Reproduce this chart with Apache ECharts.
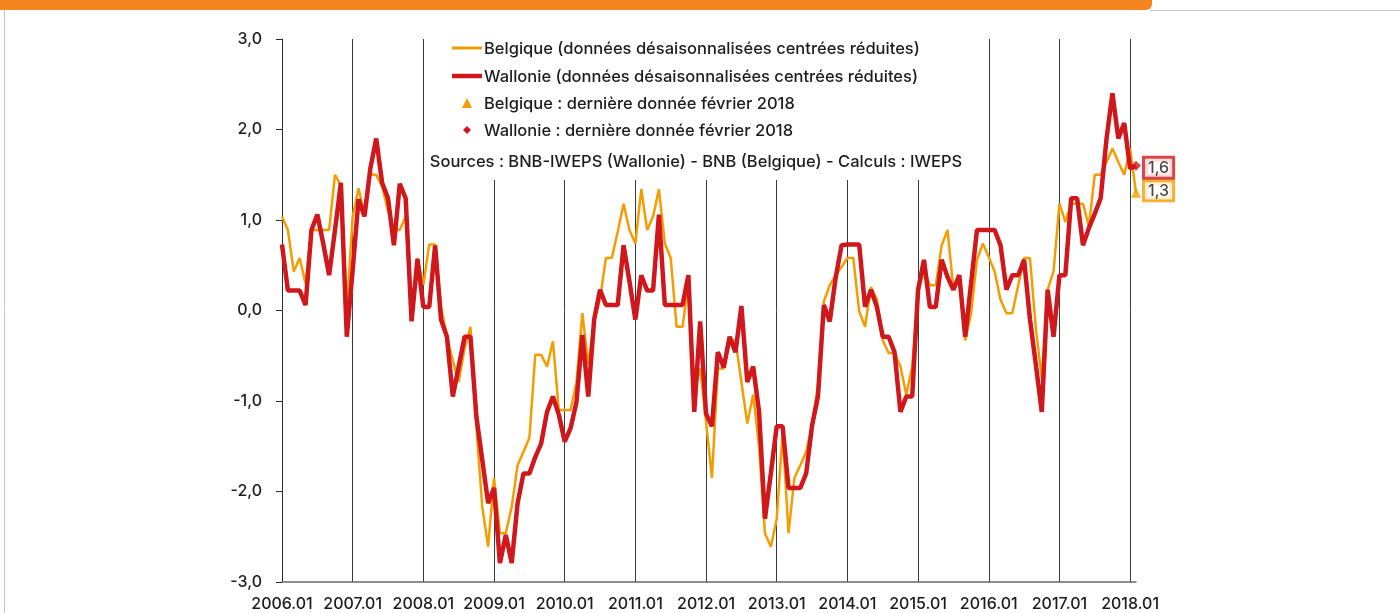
<!DOCTYPE html>
<html>
<head>
<meta charset="utf-8">
<script src="https://cdn.jsdelivr.net/npm/echarts@6/dist/echarts.min.js"></script>
<style>
    html,body{margin:0;padding:0;background:#fff;}
    #container{width:1400px;height:613px;}
</style>
</head>
<body>
<div id="container"></div>
<script>
// années affichées sur l'axe
var years = [2006,2007,2008,2009,2010,2011,2012,2013,2014,2015,2016,2017,2018];
var yTicks = [-3,-2,-1,0,1,2,3];

// Belgique (données désaisonnalisées centrées réduites), 2006.01 -> 2018.02
var belgique = [
    1.04, 0.89, 0.43, 0.58, 0.30, 0.89, 0.89, 0.89, 0.89, 1.50, 1.38, 0.00,
    1.04, 1.35, 1.06, 1.50, 1.50, 1.37, 1.10, 0.89, 0.89, 1.04, 0.00, 0.58,
    0.28, 0.73, 0.73, 0.04, -0.29, -0.55, -0.79, -0.42, -0.18, -1.28, -2.17, -2.61,
    -1.85, -2.46, -2.46, -2.17, -1.71, -1.56, -1.41, -0.49, -0.49, -0.62, -0.34, -1.10,
    -1.10, -1.10, -0.79, -0.03, -0.60, -0.12, 0.13, 0.58, 0.58, 0.87, 1.18, 0.89,
    0.74, 1.34, 0.89, 1.04, 1.34, 0.74, 0.58, -0.18, -0.18, 0.30, -0.90, -0.64,
    -1.23, -1.85, -0.64, -0.64, -0.33, -0.33, -0.79, -1.25, -0.93, -1.50, -2.46, -2.61,
    -2.30, -1.35, -2.46, -1.85, -1.71, -1.56, -1.27, -0.82, 0.10, 0.28, 0.39, 0.48,
    0.58, 0.58, -0.01, -0.18, 0.26, 0.12, -0.33, -0.47, -0.47, -0.62, -0.93, -0.62,
    0.19, 0.45, 0.28, 0.28, 0.72, 0.89, 0.23, 0.35, -0.33, -0.03, 0.56, 0.74,
    0.59, 0.43, 0.12, -0.03, -0.03, 0.28, 0.58, 0.58, -0.20, -0.75, 0.23, 0.43,
    1.18, 0.98, 1.18, 1.18, 1.18, 0.93, 1.50, 1.50, 1.64, 1.79, 1.64, 1.50,
    1.79, 1.30
];

// Wallonie (données désaisonnalisées centrées réduites)
var wallonie = [
    0.73, 0.22, 0.22, 0.22, 0.06, 0.89, 1.06, 0.74, 0.39, 0.89, 1.41, -0.29,
    0.45, 1.23, 1.04, 1.57, 1.90, 1.41, 1.24, 0.72, 1.40, 1.24, -0.12, 0.57,
    0.04, 0.04, 0.72, -0.10, -0.29, -0.95, -0.62, -0.29, -0.29, -1.17, -1.65, -2.13,
    -1.96, -2.79, -2.48, -2.79, -2.13, -1.80, -1.80, -1.62, -1.47, -1.12, -0.95, -1.15,
    -1.45, -1.30, -1.01, -0.27, -0.95, -0.10, 0.23, 0.06, 0.06, 0.06, 0.72, 0.32,
    -0.10, 0.39, 0.22, 0.22, 1.06, 0.06, 0.06, 0.06, 0.06, 0.39, -1.12, -0.12,
    -1.14, -1.28, -0.46, -0.63, -0.29, -0.46, 0.05, -0.79, -0.62, -1.12, -2.30, -1.80,
    -1.28, -1.28, -1.96, -1.96, -1.96, -1.80, -1.27, -0.95, 0.06, -0.12, 0.36, 0.72,
    0.73, 0.73, 0.73, 0.04, 0.23, 0.04, -0.29, -0.29, -0.46, -1.12, -0.95, -0.95,
    0.23, 0.56, 0.04, 0.04, 0.56, 0.37, 0.23, 0.39, -0.29, 0.30, 0.89, 0.89,
    0.89, 0.89, 0.72, 0.23, 0.39, 0.39, 0.56, -0.10, -0.60, -1.12, 0.23, -0.29,
    0.39, 0.39, 1.24, 1.24, 0.72, 0.91, 1.07, 1.24, 1.90, 2.40, 1.90, 2.07,
    1.57, 1.60
];

// dernière donnée février 2018
var lastMonth = '2018.02';
var lastBelgique = 1.3;
var lastWallonie = 1.6;

var names = [
    'Belgique (données désaisonnalisées centrées réduites)',
    'Wallonie (données désaisonnalisées centrées réduites)',
    'Belgique : dernière donnée février 2018',
    'Wallonie : dernière donnée février 2018'
];
var sourceText = 'Sources : BNB-IWEPS (Wallonie) - BNB (Belgique) - Calculs : IWEPS';

var months = [];
for (var i = 0; i < belgique.length; i++) {
    var y = years[0] + Math.floor(i / 12);
    var m = i % 12 + 1;
    months.push(y + '.' + (m < 10 ? '0' + m : m));
}

var orange = '#f59d00';
var red = '#d0181c';
var textColor = '#1c1c1c';
var font = 'Inter';
var legendFont = '500 16.5px ' + font;

function comma(v) {
    return v.toFixed(1).replace('.', ',');
}

var dom = document.getElementById('container');
var myChart = echarts.init(dom);
var option = {
    backgroundColor: '#ffffff',
    animation: false,
    textStyle: {fontFamily: font},
    grid: {left: 282, right: 264, top: 39, bottom: 31},
    xAxis: [{
        type: 'category',
        data: months,
        boundaryGap: false,
        axisLine: {show: false},
        axisTick: {show: false},
        axisLabel: {
            interval: 11,
            margin: 14,
            fontSize: 16,
            fontWeight: 500,
            color: textColor
        },
        splitLine: {show: true, interval: 11, lineStyle: {color: '#3a3a3a', width: 1}}
    }, {
        // ligne du zéro
        type: 'category',
        data: months,
        boundaryGap: false,
        position: 'bottom',
        axisLine: {show: true, onZero: true, lineStyle: {color: '#6a6a6a', width: 1.5}},
        axisTick: {show: false},
        axisLabel: {show: false},
        splitLine: {show: false}
    }],
    yAxis: {
        type: 'value',
        min: yTicks[0],
        max: yTicks[yTicks.length - 1],
        interval: 1,
        axisLine: {show: true, lineStyle: {color: '#2a2a2a', width: 1}},
        axisTick: {show: true, length: 6, lineStyle: {color: '#2a2a2a'}},
        axisLabel: {
            margin: 20,
            fontSize: 16,
            fontWeight: 500,
            color: textColor,
            formatter: function (v) { return comma(v); }
        },
        splitLine: {show: false}
    },
    graphic: [
        // bandeau du haut
        {type: 'rect', shape: {x: 0, y: 0, width: 1152, height: 10, r: [0, 0, 6, 0]}, style: {fill: '#f5851f'}},
        {type: 'line', shape: {x1: 1150, y1: 10.5, x2: 1400, y2: 10.5}, style: {stroke: '#c8c8c8', lineWidth: 1}},
        {type: 'line', shape: {x1: 4.5, y1: 10, x2: 4.5, y2: 613}, style: {stroke: '#c8c8c8', lineWidth: 1}},
        // fond blanc de la légende
        {type: 'rect', z: 1, shape: {x: 428, y: 38, width: 556, height: 142}, style: {fill: '#ffffff'}},
        {type: 'line', z: 3, shape: {x1: 452, y1: 48, x2: 482, y2: 48}, style: {stroke: orange, lineWidth: 3}},
        {type: 'line', z: 3, shape: {x1: 452, y1: 76, x2: 482, y2: 76}, style: {stroke: red, lineWidth: 4.5}},
        {type: 'polygon', z: 3, shape: {points: [[467, 98], [472, 108], [462, 108]]}, style: {fill: orange}},
        {type: 'polygon', z: 3, shape: {points: [[467, 126], [471, 130], [467, 134], [463, 130]]}, style: {fill: red}},
        {type: 'text', z: 3, x: 484, y: 49, style: {text: names[0], font: legendFont, fill: textColor, verticalAlign: 'middle'}},
        {type: 'text', z: 3, x: 484, y: 77, style: {text: names[1], font: legendFont, fill: textColor, verticalAlign: 'middle'}},
        {type: 'text', z: 3, x: 484, y: 104, style: {text: names[2], font: legendFont, fill: textColor, verticalAlign: 'middle'}},
        {type: 'text', z: 3, x: 484, y: 131, style: {text: names[3], font: legendFont, fill: textColor, verticalAlign: 'middle'}},
        {type: 'text', z: 3, x: 696, y: 162, style: {text: sourceText, font: legendFont, fill: textColor, align: 'center', verticalAlign: 'middle'}}
    ],
    series: [{
        name: names[0],
        type: 'line',
        data: belgique,
        symbol: 'none',
        z: 3,
        lineStyle: {color: orange, width: 2.5}
    }, {
        name: names[1],
        type: 'line',
        data: wallonie,
        symbol: 'none',
        z: 4,
        lineStyle: {color: red, width: 4.5}
    }, {
        name: names[2],
        type: 'scatter',
        symbol: 'triangle',
        symbolSize: 10,
        z: 5,
        data: [[lastMonth, lastBelgique]],
        itemStyle: {color: orange},
        label: {
            show: true, position: 'right', distance: 4, offset: [0, -2],
            formatter: function (p) { return comma(p.value[1]); },
            fontSize: 16, fontWeight: 500, color: textColor,
            backgroundColor: '#fff', borderColor: orange, borderWidth: 3,
            padding: [1, 3, 0, 3]
        }
    }, {
        name: names[3],
        type: 'scatter',
        symbol: 'diamond',
        symbolSize: 10,
        z: 6,
        data: [[lastMonth, lastWallonie]],
        itemStyle: {color: red},
        label: {
            show: true, position: 'right', distance: 4, offset: [0, 2],
            formatter: function (p) { return comma(p.value[1]); },
            fontSize: 16, fontWeight: 500, color: textColor,
            backgroundColor: '#fff', borderColor: red, borderWidth: 3,
            padding: [1, 3, 1, 3]
        }
    }]
};
if (option && typeof option === 'object') {
    myChart.setOption(option, true);
}
</script>
</body>
</html>
